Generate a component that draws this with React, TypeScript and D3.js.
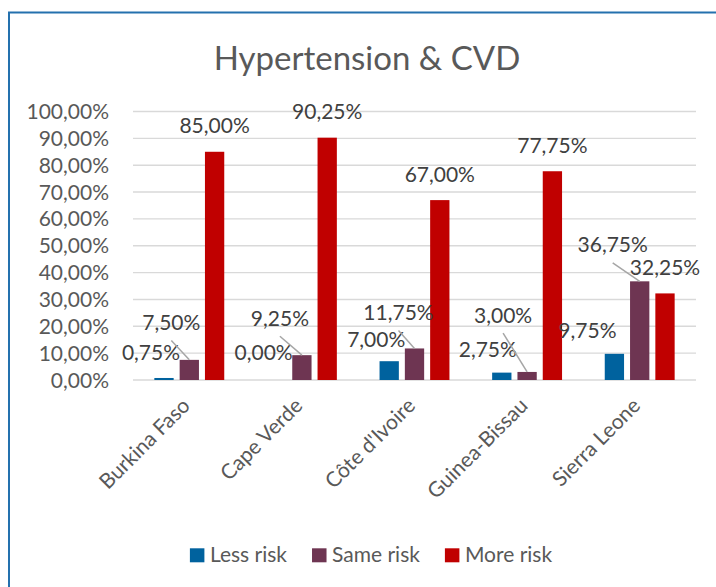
import { useEffect, useRef } from 'react'
import * as d3 from 'd3'

// chart data (percent)
const categories = ['Burkina Faso', 'Cape Verde', "Côte d'Ivoire", 'Guinea-Bissau', 'Sierra Leone']
const seriesNames = ['Less risk', 'Same risk', 'More risk']
const lessRisk = [0.75, 0, 7, 2.75, 9.75]
const sameRisk = [7.5, 9.25, 11.75, 3, 36.75]
const moreRisk = [85, 90.25, 67, 77.75, 32.25]
const yTicks = [0, 10, 20, 30, 40, 50, 60, 70, 80, 90, 100]

const colors = ['#00629e', '#6e3552', '#c00000']

// manual label nudges (dx, dy) like the moved labels in the workbook
const labelShift = [
	[[-13, 0], [-13, -1.5], [-13, 4], [-14, 3], [-27, 3]],
	[[-18, -11.5], [-22, -11], [-16, -10], [-24, -31], [-27, -10.5]],
	[[0, 0], [0, 0], [0, 0], [0, 0], [0, 0]],
]
const leaderLines = [false, true, false]

const fmt = (v) => v.toFixed(2).replace('.', ',') + '%'

const FONT = 'Lato, "Open Sans", sans-serif'

const Chart = () => {
	const svgRef = useRef()

	useEffect(() => {
		const svg = d3.select(svgRef.current)
		svg.selectAll('*').remove()

		const values = [lessRisk, sameRisk, moreRisk]
		const left = 133
		const right = 696
		const top = 111.5
		const bottom = 380

		// chart frame
		svg
			.append('rect')
			.attr('x', 9)
			.attr('y', 12.5)
			.attr('width', 760)
			.attr('height', 640)
			.attr('fill', '#fff')
			.attr('stroke', '#2471ae')
			.attr('stroke-width', 2)

		// title
		svg
			.append('text')
			.attr('x', 367)
			.attr('y', 70)
			.attr('text-anchor', 'middle')
			.style('font-family', FONT)
			.style('font-size', '33px')
			.style('fill', '#595959')
			.text('Hypertension & CVD')

		const x0 = d3.scaleBand().domain(categories).range([left, right])
		const half = 37.95
		const x1 = d3
			.scaleBand()
			.domain(seriesNames)
			.range([-half, half])
			.paddingInner(0.237)
			.paddingOuter(0.1185)
		const y = d3.scaleLinear().domain([0, 100]).range([bottom, top])

		// gridlines
		svg
			.append('g')
			.selectAll('line')
			.data(yTicks)
			.enter()
			.append('line')
			.attr('x1', left)
			.attr('x2', right)
			.attr('y1', (d) => y(d))
			.attr('y2', (d) => y(d))
			.attr('stroke', '#d9d9d9')
			.attr('stroke-width', 1.4)

		// y tick labels
		svg
			.append('g')
			.selectAll('text')
			.data(yTicks)
			.enter()
			.append('text')
			.attr('x', 109)
			.attr('y', (d) => y(d))
			.attr('dy', '0.36em')
			.attr('text-anchor', 'end')
			.style('font-family', FONT)
			.style('font-size', '21px')
			.style('fill', '#595959')
			.text((d) => fmt(d))

		const center = (c) => x0(c) + x0.bandwidth() / 2

		// bars
		seriesNames.forEach((s, si) => {
			svg
				.append('g')
				.selectAll('rect')
				.data(categories)
				.enter()
				.append('rect')
				.attr('x', (c) => center(c) + x1(s))
				.attr('width', x1.bandwidth())
				.attr('y', (c, i) => y(values[si][i]))
				.attr('height', (c, i) => bottom - y(values[si][i]))
				.attr('fill', colors[si])
		})

		// data labels
		seriesNames.forEach((s, si) => {
			categories.forEach((c, i) => {
				const bx = center(c) + x1(s) + x1.bandwidth() / 2
				const by = y(values[si][i])
				const [dx, dy] = labelShift[si][i]
				const lx = bx + dx
				const ly = by - 18.4 + dy
				if (leaderLines[si]) {
					svg
						.append('line')
						.attr('x1', lx)
						.attr('y1', ly + 10.5)
						.attr('x2', bx)
						.attr('y2', by)
						.attr('stroke', '#a6a6a6')
						.attr('stroke-width', 1.5)
				}
				svg
					.append('text')
					.attr('x', lx)
					.attr('y', ly)
					.attr('text-anchor', 'middle')
					.style('font-family', FONT)
					.style('font-size', '21px')
					.style('fill', '#404040')
					.text(fmt(values[si][i]))
			})
		})

		// category labels
		svg
			.append('g')
			.selectAll('text')
			.data(categories)
			.enter()
			.append('text')
			.attr('transform', (c) => `translate(${center(c) + 2},${407}) rotate(-45)`)
			.attr('text-anchor', 'end')
			.style('font-family', FONT)
			.style('font-size', '21px')
			.style('fill', '#595959')
			.text((c) => c)

		// legend
		const legend = svg.append('g')
		let cx = 0
		seriesNames.forEach((s, si) => {
			const item = legend.append('g').attr('transform', `translate(${cx},0)`)
			item
				.append('rect')
				.attr('x', 0)
				.attr('y', 548.3)
				.attr('width', 14.5)
				.attr('height', 14)
				.attr('fill', colors[si])
			const t = item
				.append('text')
				.attr('x', 20)
				.attr('y', 562)
				.style('font-family', FONT)
				.style('font-size', '21px')
				.style('fill', '#595959')
				.text(s)
			const w = t.node().getComputedTextLength()
			cx += 20 + w + 25
		})
		const total = cx - 25
		legend.attr('transform', `translate(${371 - total / 2},0)`)
	}, [])

	return (
		<svg
			ref={svgRef}
			width={716}
			height={587}
			style={{ position: 'absolute', left: 0, top: 0, display: 'block' }}
		></svg>
	)
}

export default function App() {
	return <Chart />
}
